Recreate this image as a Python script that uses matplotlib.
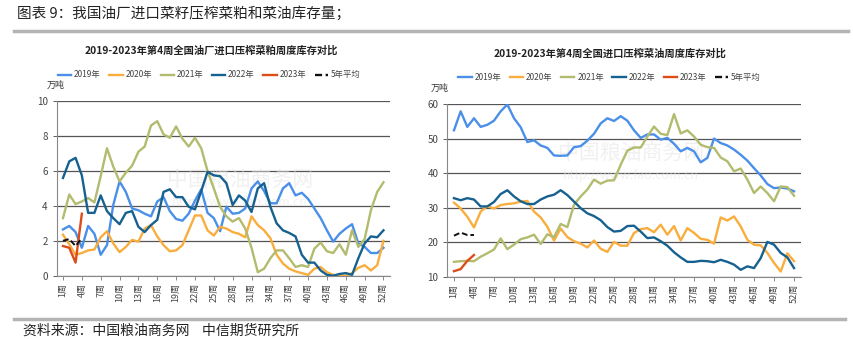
import numpy as np
import matplotlib.pyplot as plt

plt.rcParams['font.family'] = ['Noto Sans CJK SC', 'DejaVu Sans']

weeks = np.arange(1, 53)
tick_weeks = list(range(1, 53, 3))
tick_labels = [f"{w}周" for w in tick_weeks]
series_names = ["2019年", "2020年", "2021年", "2022年", "2023年", "5年平均"]
colors = ["#4a8fe8", "#f9ad3d", "#b3bb6e", "#16618f", "#dc4d1a", "#111111"]

# 菜粕 (万吨)
meal_2019 = [2.65, 2.85, 2.5, 1.6, 2.85, 2.4, 1.2, 1.75, 4.05, 5.4,
             4.8, 3.85, 3.75, 3.55, 3.4, 4.25, 4.5, 3.7, 3.25, 3.15,
             3.55, 4.3, 4.95, 3.6, 3.3, 2.55, 3.95, 3.55, 3.6, 3.85,
             5.0, 5.4, 4.85, 4.15, 4.15, 5.0, 5.3, 4.6, 4.75, 4.4,
             3.85, 3.3, 2.6, 1.95, 2.4, 2.7, 2.95, 1.85, 1.65, 1.3,
             1.3, 1.6]
meal_2020 = [2.35, 1.8, 1.2, 1.3, 1.45, 1.5, 2.2, 2.55, 1.85, 1.35,
             1.65, 2.05, 1.95, 2.7, 2.9, 2.25, 1.75, 1.4, 1.45, 1.75,
             2.6, 3.45, 3.45, 2.6, 2.3, 2.8, 2.7, 2.5, 2.4, 2.2,
             3.4, 2.9, 2.6, 2.15, 1.2, 0.7, 0.4, 0.25, 0.15, 0.05,
             0.4, 0.5, 0.2, 0.05, 0.0, 0.0, 0.15, 0.45, 0.6, 0.3,
             0.6, 2.0]
meal_2021 = [3.3, 4.65, 4.1, 4.25, 4.45, 4.2, 5.7, 7.3, 6.25, 5.4,
             5.9, 6.3, 7.1, 7.4, 8.6, 8.85, 8.1, 7.9, 8.55, 7.85,
             7.4, 7.9, 7.3, 6.0, 5.0, 3.95, 3.4, 3.1, 3.3, 2.7,
             1.6, 0.2, 0.4, 1.0, 1.45, 1.45, 1.0, 0.5, 0.6, 0.5,
             1.55, 1.9, 1.4, 1.3, 1.8, 1.2, 2.6, 1.65, 2.1, 3.75,
             4.8, 5.35]
meal_2022 = [5.6, 6.55, 6.75, 5.75, 3.6, 3.6, 4.6, 3.7, 3.3, 2.95,
             3.6, 3.7, 2.8, 2.5, 2.9, 3.2, 4.8, 4.95, 4.5, 4.5,
             3.95, 3.8, 4.85, 5.95, 5.75, 5.7, 5.3, 4.05, 4.6, 4.3,
             3.65, 5.0, 5.3, 3.95, 3.0, 2.6, 2.45, 2.25, 1.2, 0.75,
             0.75, 0.3, 0.05, 0.0, 0.1, 0.15, 0.05, 1.0, 1.85, 2.25,
             2.2, 2.6]
meal_2023 = [1.7, 1.6, 0.75, 3.55]
meal_avg = [2.0, 2.1, 1.7, 2.15]

# 菜油 (万吨)
oil_2019 = [52.5, 58.0, 53.5, 56.0, 53.5, 54.1, 55.3, 58.0, 60.0, 56.0,
            53.4, 49.1, 49.6, 48.1, 47.4, 45.2, 45.1, 45.2, 47.6, 47.9,
            49.5, 51.5, 54.5, 56.0, 55.2, 56.6, 55.3, 52.5, 50.3, 51.3,
            51.3, 49.8, 50.3, 48.6, 46.4, 47.4, 46.4, 43.2, 44.5, 50.1,
            48.8, 48.1, 46.9, 45.4, 43.7, 41.5, 39.4, 36.9, 35.7, 35.9,
            35.6, 34.8]
oil_2020 = [31.5, 29.8, 27.4, 24.3, 28.9, 30.5, 29.8, 30.8, 31.1, 31.3,
            31.8, 32.0, 28.9, 27.2, 24.5, 20.5, 24.0, 21.5, 20.3, 19.6,
            18.5, 20.5, 18.1, 17.2, 20.1, 19.0, 19.0, 22.7, 23.8, 24.1,
            22.9, 25.1, 22.2, 24.7, 20.5, 24.1, 22.7, 21.0, 20.7, 19.6,
            27.2, 26.3, 27.5, 24.6, 20.7, 19.3, 19.1, 16.9, 14.0, 11.5,
            16.8, 14.5]
oil_2021 = [14.3, 14.5, 14.6, 14.5, 15.8, 16.8, 17.9, 21.1, 18.0, 19.3,
            20.9, 21.4, 22.2, 19.5, 22.3, 21.5, 25.3, 24.4, 30.9, 33.3,
            35.3, 38.2, 37.0, 37.9, 38.0, 42.5, 46.6, 47.5, 47.5, 50.7,
            53.6, 51.5, 51.1, 57.2, 51.6, 52.5, 50.7, 48.3, 47.6, 47.4,
            44.6, 43.5, 40.6, 41.4, 38.2, 34.3, 36.2, 34.3, 31.9, 36.2,
            36.0, 33.5]
oil_2022 = [32.8, 32.2, 32.8, 32.4, 30.4, 30.4, 31.7, 34.0, 35.1, 33.3,
            31.9, 31.1, 31.1, 32.4, 33.3, 33.8, 35.1, 33.7, 31.8, 29.9,
            28.4, 27.6, 26.4, 24.4, 23.1, 23.3, 24.7, 24.8, 23.1, 21.2,
            21.4, 20.3, 19.0, 17.1, 15.6, 14.3, 14.3, 14.6, 14.5, 14.2,
            14.9, 14.3, 13.5, 12.0, 13.0, 12.5, 15.4, 20.1, 19.3, 16.9,
            15.6, 12.5]
oil_2023 = [11.6, 12.2, 14.6, 16.3]
oil_avg = [21.9, 22.8, 22.1, 22.1]


def draw(ax, data, ylim, yticks):
    for i, vals in enumerate(data):
        x = weeks[:len(vals)]
        if i == 5:
            ax.plot(x, vals, color=colors[i], lw=1.4, ls=(0, (3, 1.5)), zorder=3)
        else:
            ax.plot(x, vals, color=colors[i], lw=1.7, zorder=2 + (i == 4))
    ax.set_xlim(0, 53)
    ax.set_ylim(*ylim)
    ax.set_yticks(yticks)
    ax.set_xticks(tick_weeks)
    ax.set_xticklabels(tick_labels, rotation=90, fontsize=6.5, color='#444')
    ax.tick_params(axis='y', labelsize=7, colors='#444', length=3, width=0.6)
    ax.tick_params(axis='x', length=3, width=0.6, color='#777', pad=2)
    ax.yaxis.grid(True, color='#555', lw=0.9)
    ax.set_axisbelow(True)
    for s in ['top', 'right']:
        ax.spines[s].set_visible(False)
    for s in ['left', 'bottom']:
        ax.spines[s].set_color('#888')
        ax.spines[s].set_linewidth(0.8)


fig = plt.figure(figsize=(8.54, 3.39), dpi=100)
ax1 = fig.add_axes([0.0664, 0.1867, 0.390, 0.515])
ax2 = fig.add_axes([0.5238, 0.1838, 0.4138, 0.508])

draw(ax1, [meal_2019, meal_2020, meal_2021, meal_2022, meal_2023, meal_avg],
     (0, 10), [0, 2, 4, 6, 8, 10])
draw(ax2, [oil_2019, oil_2020, oil_2021, oil_2022, oil_2023, oil_avg],
     (10, 60), [10, 20, 30, 40, 50, 60])

# watermarks
for ax, xy in [(ax1, (0.55, 0.55)), (ax2, (0.52, 0.72))]:
    ax.text(*xy, "中国粮油商务网", transform=ax.transAxes, fontsize=15,
            color='#e2e2e2', alpha=0.5, ha='center', va='center', zorder=1)
    ax.text(xy[0], xy[1] - 0.13, "http://www.fao.com.cn", transform=ax.transAxes,
            fontsize=9, color='#e2e2e2', alpha=0.5, ha='center', va='center', zorder=1)

handles = [plt.Line2D([], [], color=c, lw=1.7, ls=(0, (3, 1.5)) if i == 5 else '-')
           for i, c in enumerate(colors)]
for cx, cy in [(0.245, 0.779), (0.714, 0.771)]:
    fig.legend(handles, series_names, ncol=6, loc='center', bbox_to_anchor=(cx, cy),
               frameon=False, fontsize=6, handlelength=1.6, columnspacing=1.0,
               handletextpad=0.35, labelcolor='#444')

fig.text(0.247, 0.852, "2019-2023年第4周全国油厂进口压榨菜粕周度库存对比",
         ha='center', va='center', fontsize=7.4, fontweight='bold', color='#222')
fig.text(0.714, 0.842, "2019-2023年第4周全国进口压榨菜油周度库存对比",
         ha='center', va='center', fontsize=7.4, fontweight='bold', color='#222')
fig.text(56 / 854, 1 - 85 / 339, "万吨", ha='center', va='center', fontsize=6.5, color='#333')
fig.text(440 / 854, 1 - 88 / 339, "万吨", ha='center', va='center', fontsize=6.5, color='#333')

fig.text(17 / 854, 1 - 13 / 339, "图表 9：我国油厂进口菜籽压榨菜粕和菜油库存量；",
         ha='left', va='center', fontsize=10.5, color='#222')
fig.add_artist(plt.Line2D([14 / 854, 848 / 854], [1 - 31 / 339] * 2, color='#b4b4b4', lw=2.5))
fig.add_artist(plt.Line2D([14 / 854, 845 / 854], [1 - 319 / 339] * 2, color='#b4b4b4', lw=2.5))
fig.text(23 / 854, 1 - 331 / 339, "资料来源：中国粮油商务网    中信期货研究所",
         ha='left', va='center', fontsize=10, color='#222')

fig.savefig("out.png", dpi=100)
